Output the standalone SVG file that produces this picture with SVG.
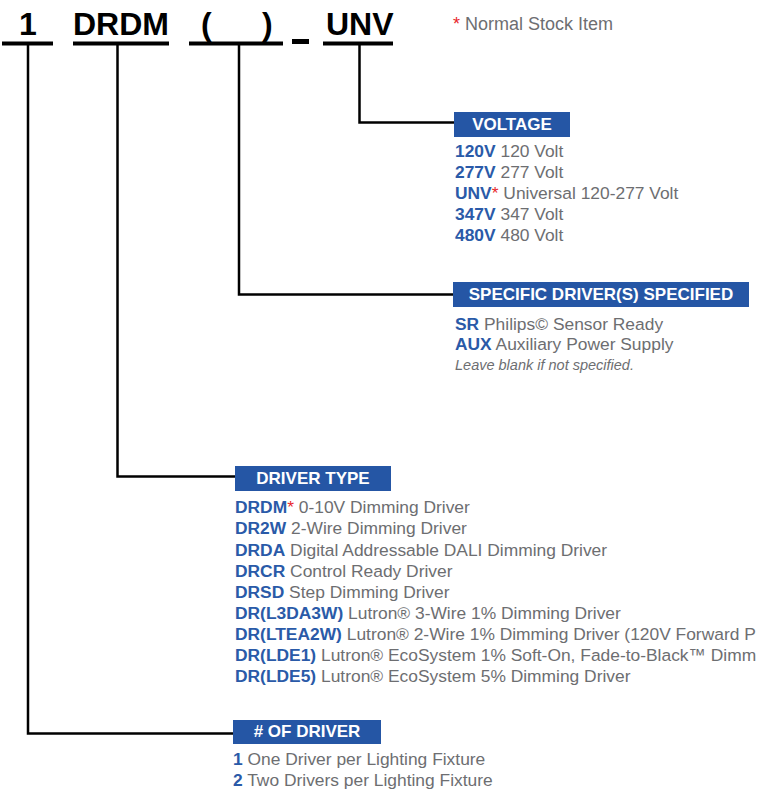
<svg xmlns="http://www.w3.org/2000/svg" width="757" height="791" viewBox="0 0 757 791">
<style>
.big{font-family:"Liberation Sans",Arial,sans-serif;font-weight:bold;font-size:32px;fill:#000}
.ul{stroke:#000;stroke-width:4;fill:none}
.conn{stroke:#000;stroke-width:2.5;fill:none}
.hbox{fill:#2556a5}
.htxt{font-family:"Liberation Sans",Arial,sans-serif;font-weight:bold;font-size:17px;fill:#fff;text-anchor:middle}
.li{font-family:"Liberation Sans",Arial,sans-serif;font-size:17.4px;fill:#6d6e71}
.legend{font-family:"Liberation Sans",Arial,sans-serif;font-size:18px;fill:#6d6e71}
.code{font-weight:bold;fill:#2a5aa8}
.star{fill:#e8262b}
.note{font-family:"Liberation Sans",Arial,sans-serif;font-style:italic;font-size:14.5px;fill:#6d6e71}
</style>
<rect width="757" height="791" fill="#fff"/>
<g id="code-line">
<text class="big" x="28" y="35" text-anchor="middle">1</text>
<text class="big" x="73" y="35">DRDM</text>
<text class="big" x="201" y="35">(</text>
<text class="big" x="262" y="35">)</text>
<text class="big" x="326" y="35">UNV</text>
<line class="ul" x1="2" y1="43.5" x2="53" y2="43.5"/>
<line class="ul" x1="73" y1="43.5" x2="169" y2="43.5"/>
<line class="ul" x1="189" y1="43.5" x2="283" y2="43.5"/>
<line x1="292" y1="41.5" x2="309" y2="41.5" stroke="#000" stroke-width="5"/>
<line class="ul" x1="323" y1="43.5" x2="393" y2="43.5"/>
</g>
<g id="legend">
<text class="legend" x="453" y="30"><tspan class="star">*</tspan> Normal Stock Item</text>
</g>
<g id="connectors">
<polyline class="conn" points="359.5,44 359.5,122.5 455,122.5"/>
<polyline class="conn" points="239,44 239,294.5 454,294.5"/>
<polyline class="conn" points="117.5,44 117.5,476.5 236,476.5"/>
<polyline class="conn" points="28,44 28,733.5 234,733.5"/>
</g>
<g id="voltage">
<rect class="hbox" x="454" y="112" width="116" height="25"/>
<text class="htxt" x="512" y="129.5">VOLTAGE</text>
<text class="li" x="455" y="157"><tspan class="code">120V</tspan> 120 Volt</text>
<text class="li" x="455" y="178"><tspan class="code">277V</tspan> 277 Volt</text>
<text class="li" x="455" y="199"><tspan class="code">UNV</tspan><tspan class="star">*</tspan> Universal 120-277 Volt</text>
<text class="li" x="455" y="220"><tspan class="code">347V</tspan> 347 Volt</text>
<text class="li" x="455" y="241"><tspan class="code">480V</tspan> 480 Volt</text>
</g>
<g id="specific-driver">
<rect class="hbox" x="453" y="282" width="296" height="25"/>
<text class="htxt" x="601" y="300">SPECIFIC DRIVER(S) SPECIFIED</text>
<text class="li" x="455" y="330"><tspan class="code">SR</tspan> Philips© Sensor Ready</text>
<text class="li" x="455" y="350"><tspan class="code">AUX</tspan> Auxiliary Power Supply</text>
<text class="note" x="455" y="370">Leave blank if not specified.</text>
</g>
<g id="driver-type">
<rect class="hbox" x="235" y="466" width="156" height="25"/>
<text class="htxt" x="313" y="483.5">DRIVER TYPE</text>
<text class="li" x="235" y="513"><tspan class="code">DRDM</tspan><tspan class="star">*</tspan> 0-10V Dimming Driver</text>
<text class="li" x="235" y="534"><tspan class="code">DR2W</tspan> 2-Wire Dimming Driver</text>
<text class="li" x="235" y="555.5"><tspan class="code">DRDA</tspan> Digital Addressable DALI Dimming Driver</text>
<text class="li" x="235" y="576.5"><tspan class="code">DRCR</tspan> Control Ready Driver</text>
<text class="li" x="235" y="598"><tspan class="code">DRSD</tspan> Step Dimming Driver</text>
<text class="li" x="235" y="619"><tspan class="code">DR(L3DA3W)</tspan> Lutron® 3-Wire 1% Dimming Driver</text>
<text class="li" x="235" y="640"><tspan class="code">DR(LTEA2W)</tspan> Lutron® 2-Wire 1% Dimming Driver (120V Forward P</text>
<text class="li" x="235" y="661"><tspan class="code">DR(LDE1)</tspan> Lutron® EcoSystem 1% Soft-On, Fade-to-Black™ Dimm</text>
<text class="li" x="235" y="682"><tspan class="code">DR(LDE5)</tspan> Lutron® EcoSystem 5% Dimming Driver</text>
</g>
<g id="num-driver">
<rect class="hbox" x="233" y="720" width="148" height="24"/>
<text class="htxt" x="307" y="737"># OF DRIVER</text>
<text class="li" x="233" y="765"><tspan class="code">1</tspan> One Driver per Lighting Fixture</text>
<text class="li" x="233" y="786"><tspan class="code">2</tspan> Two Drivers per Lighting Fixture</text>
</g>
</svg>
